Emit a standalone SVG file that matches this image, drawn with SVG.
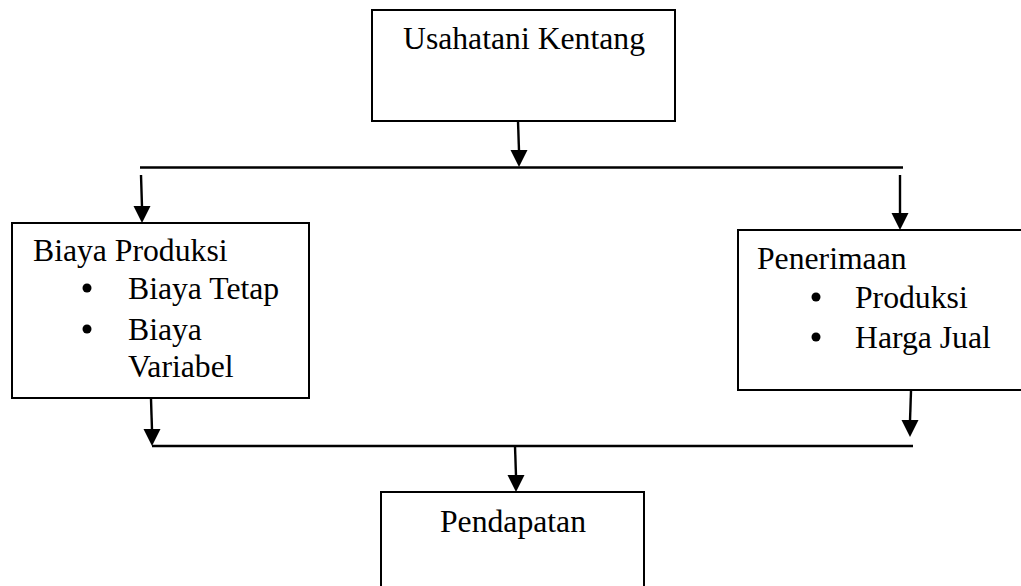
<svg xmlns="http://www.w3.org/2000/svg" width="1021" height="586" viewBox="0 0 1021 586">
<style>
.box{fill:#fff;stroke:#000;stroke-width:2}
.ln{stroke:#000;stroke-width:2.4;fill:none}
.hd{fill:#000;stroke:none}
.t{font-family:"Liberation Serif","Times New Roman",serif;font-size:31.7px;fill:#000}
</style>
<rect width="1021" height="586" fill="#fff"/>
<g id="connectors">
<line class="ln" x1="518" y1="121" x2="519" y2="151"/>
<polygon class="hd" points="510.5,150 527.5,150 519,167"/>
<line class="ln" x1="140" y1="167.5" x2="903" y2="167.5"/>
<line class="ln" x1="141" y1="175" x2="142" y2="207"/>
<polygon class="hd" points="133.5,206 150.5,206 142,223"/>
<line class="ln" x1="900" y1="175" x2="900" y2="214"/>
<polygon class="hd" points="891.5,213 908.5,213 900,230"/>
<line class="ln" x1="151" y1="399" x2="152" y2="430"/>
<polygon class="hd" points="143.5,429 160.5,429 152,446"/>
<line class="ln" x1="911" y1="391" x2="910" y2="421"/>
<polygon class="hd" points="901.5,420 918.5,420 910,437"/>
<line class="ln" x1="152" y1="446" x2="913" y2="446"/>
<line class="ln" x1="515" y1="446" x2="516" y2="476"/>
<polygon class="hd" points="507.5,475 524.5,475 516,492"/>
</g>
<g id="node-usahatani">
<rect class="box" x="372" y="10" width="303" height="111"/>
<text class="t" x="524" y="49" text-anchor="middle">Usahatani Kentang</text>
</g>
<g id="node-biaya">
<rect class="box" x="12" y="223" width="297" height="175"/>
<text class="t" x="33" y="261">Biaya Produksi</text>
<circle cx="87" cy="288" r="4.5"/>
<text class="t" x="128" y="299">Biaya Tetap</text>
<circle cx="87" cy="329" r="4.5"/>
<text class="t" x="128" y="340">Biaya</text>
<text class="t" x="128" y="377">Variabel</text>
</g>
<g id="node-penerimaan">
<rect class="box" x="738" y="230" width="290" height="160"/>
<text class="t" x="757" y="269">Penerimaan</text>
<circle cx="816" cy="297" r="4.5"/>
<text class="t" x="855" y="308">Produksi</text>
<circle cx="816" cy="337" r="4.5"/>
<text class="t" x="855" y="348">Harga Jual</text>
</g>
<g id="node-pendapatan">
<rect class="box" x="381" y="492" width="263" height="110"/>
<text class="t" x="513" y="532" text-anchor="middle">Pendapatan</text>
</g>
</svg>
